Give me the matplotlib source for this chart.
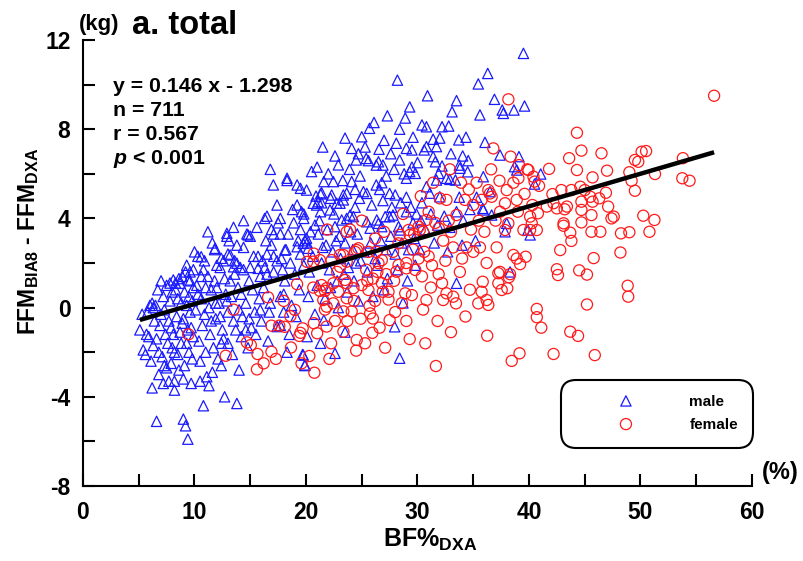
import matplotlib
matplotlib.use("Agg")
import matplotlib.pyplot as plt
from matplotlib.ticker import MultipleLocator

plt.rcParams['font.family'] = ['Liberation Sans', 'DejaVu Sans']
plt.rcParams['font.weight'] = 'bold'
plt.rcParams['axes.labelweight'] = 'bold'
plt.rcParams['axes.unicode_minus'] = False
plt.rcParams['mathtext.fontset'] = 'custom'
plt.rcParams['mathtext.default'] = 'rm'
plt.rcParams['mathtext.rm'] = 'Liberation Sans:bold'
plt.rcParams['mathtext.it'] = 'Liberation Sans:italic:bold'
plt.rcParams['mathtext.bf'] = 'Liberation Sans:bold'

# (BF% by DXA, FFM_BIA8 - FFM_DXA in kg)
male = [
    (5.1, -1.0), (5.4, -1.9), (5.6, -2.1), (5.3, -0.3), (5.7, -1.2), (6.0, 0.1), (6.2, 0.2), (6.3, 0.0),
    (6.5, 0.1), (6.6, -1.4), (6.2, -3.6), (6.6, -5.1), (6.8, -2.0), (7.1, -2.2), (7.3, -2.6), (7.5, -2.7),
    (7.9, -2.5), (7.0, -0.3), (7.2, 0.5), (7.5, 1.0), (7.8, 0.3), (6.9, -0.8), (7.4, -1.2), (7.7, -0.6),
    (8.0, -1.8), (7.6, -1.6), (6.4, -0.6), (5.9, -1.3), (6.1, -2.4), (6.7, 0.8), (7.0, 1.2), (7.3, -0.1),
    (7.9, -0.9), (8.0, 0.7), (6.8, -3.0), (7.2, -3.4), (5.8, -0.2), (6.3, -1.7), (7.7, -3.3), (7.8, 1.1),
    (8.2, -2.0), (8.5, -2.1), (8.2, -3.3), (8.2, -3.7), (9.0, -3.2), (9.0, -5.0), (9.2, -5.3), (9.4, -5.9),
    (8.3, 0.8), (8.6, 1.3), (8.8, 0.2), (9.0, -0.5), (9.2, 1.6), (9.5, 0.5), (9.7, -0.9), (8.7, -1.1),
    (9.3, -1.6), (9.8, -2.3), (9.6, 1.6), (8.4, -0.4), (9.9, 0.9), (9.1, -2.6), (8.9, 1.4), (9.6, -0.2),
    (8.1, -1.2), (8.6, -2.8), (8.9, -0.7), (9.3, 0.1), (9.6, 1.2), (9.9, -1.3), (8.5, 0.4), (9.1, 0.7),
    (9.4, -1.0), (9.8, 0.3), (8.3, 1.1), (9.3, 1.9), (9.7, -3.4), (8.8, -1.6), (9.5, -2.0), (9.9, 1.7),
    (8.1, 1.24), (8.7, 1.09), (9.45, 1.24),
    (10.5, -3.3), (11.1, -3.1), (11.3, -3.5), (11.6, -2.9), (10.8, -4.4), (12.7, -4.0), (10.0, 2.5), (10.3, 2.3),
    (11.8, 2.6), (12.0, 1.9), (12.3, 1.8), (12.6, 2.1), (13.0, 2.4), (12.9, 3.2), (10.2, 1.0), (10.6, 0.4),
    (10.9, -0.3), (11.2, 1.4), (11.5, 0.8), (11.9, -0.5), (12.2, 0.2), (12.5, -1.0), (12.8, 0.6), (10.4, -1.5),
    (10.7, -0.8), (11.0, -2.0), (11.4, -1.2), (11.7, -1.8), (12.1, -2.3), (12.4, -1.6), (10.1, -0.1), (11.3, 0.0),
    (12.0, 0.9), (12.7, 1.3), (13.0, -0.2), (10.8, 1.7), (11.6, 2.9), (12.4, -2.6), (10.5, -2.4), (10.3, 0.6),
    (11.0, 0.9), (11.8, 1.2), (12.3, -0.4), (10.9, 2.1), (11.5, -0.6), (12.9, 0.3), (11.2, 3.4), (10.6, 1.4),
    (12.6, -1.4), (11.9, 0.2), (10.6, 2.28), (11.85, 2.66), (12.4, 2.21), (13.2, 2.36),
    (13.8, -4.3), (13.6, 2.1), (14.1, 1.8), (14.4, 1.7), (14.4, 2.7), (14.4, 3.9), (14.7, 3.3), (15.0, 3.2),
    (15.0, 1.8), (15.3, 2.3), (15.7, 2.3), (13.3, 0.5), (13.5, -0.6), (13.9, 0.9), (14.2, -1.3), (14.6, 0.2),
    (14.9, -0.5), (15.2, 0.8), (15.5, -1.2), (15.8, 0.4), (13.4, -2.1), (14.0, -2.8), (14.8, -1.8), (13.2, 1.2),
    (15.9, 1.4), (13.7, -1.0), (14.3, -0.4), (13.1, 3.0), (13.6, 1.5), (14.2, 0.6), (14.9, 1.2), (15.4, -0.2),
    (15.9, -0.1), (13.0, -1.6), (13.8, 2.8), (14.6, -1.0), (15.1, -0.9), (15.6, 3.6), (13.5, 3.6), (14.0, -0.1),
    (13.8, 1.99), (13.5, 1.83), (14.8, 3.26), (12.9, 3.33), (15.7, 1.76),
    (16.5, 4.1), (16.3, 4.0), (17.7, 4.0), (16.9, 3.5), (17.1, 3.3), (17.7, 3.3), (18.4, 3.3), (19.3, 3.0),
    (19.9, 3.0), (16.5, 2.4), (17.1, 2.3), (17.4, 2.1), (17.8, 2.2), (16.3, 1.8), (16.5, 1.5), (17.1, 1.6),
    (17.07, 5.5), (18.3, 5.7), (19.2, 5.5), (19.2, 4.6), (19.6, 4.3), (19.8, 4.2), (19.8, 4.0), (17.4, -0.85),
    (17.7, -0.8), (18.7, 0.1), (17.7, 0.5), (16.2, 0.9), (16.8, 0.2), (18.1, 1.2), (18.6, 2.0), (19.0, 1.5),
    (19.5, 2.4), (16.0, -0.6), (16.6, -1.5), (18.0, -0.2), (19.4, 0.8), (19.7, -2.1), (19.9, -2.6), (16.9, 2.8),
    (18.2, 2.6), (18.9, 3.8), (17.4, 4.6), (18.0, 0.6), (19.1, -0.4), (16.4, 3.0), (17.9, 1.7), (18.5, -1.2),
    (19.8, 1.9), (16.1, 2.1), (18.8, 4.4), (17.5, 3.8), (19.5, 3.5), (16.7, -0.2), (18.3, -2.0), (16.8, 6.2),
    (18.3, 5.8), (19.5, 5.35), (20.05, 3.11), (19.75, 2.88), (19.2, 2.73), (20.2, 2.66), (18.1, 2.58),
    (20.1, 2.9), (21.1, 3.3), (20.8, 3.7), (21.3, 5.1), (21.1, 4.75), (21.4, 4.7), (20.05, 5.27), (21.6, 5.65),
    (22.45, 5.65), (21.4, 5.15), (22.3, 5.05), (22.75, 4.68), (23.35, 5.05), (23.65, 5.13), (24.1, 5.65), (24.85, 5.9),
    (20.65, 4.68), (20.95, 4.6), (21.3, 4.30), (22.15, 4.38), (23.05, 4.68), (23.35, 4.83), (22.6, 3.63), (23.2, 3.93),
    (23.65, 4.0), (23.95, 4.15), (24.25, 4.08), (21.5, 7.2), (22.6, 6.8), (24.1, 7.14), (23.5, 7.6), (25.0, 7.66),
    (24.5, 6.62), (21.6, -0.56), (23.5, -1.1), (22.6, -2.05), (20.3, 1.6), (20.6, 2.3), (21.0, 1.0), (21.4, 2.0),
    (21.8, 2.8), (22.1, 1.7), (22.4, 2.5), (22.8, 1.2), (23.1, 2.2), (23.5, 2.9), (23.8, 1.8), (24.2, 2.6),
    (24.6, 3.3), (24.9, 2.1), (20.4, 3.4), (21.2, 3.9), (21.9, 3.5), (22.5, 4.2), (23.0, 3.2), (24.0, 3.4),
    (24.4, 4.5), (24.8, 4.9), (20.2, 0.5), (20.8, -0.3), (21.7, 0.4), (22.2, 0.9), (22.9, 0.0), (23.7, 0.7),
    (24.3, 1.2), (24.7, 0.3), (20.5, 6.1), (21.0, 6.3), (22.0, 6.0), (22.9, 6.4), (23.3, 5.7), (24.4, 5.3),
    (20.9, 5.0), (22.2, 4.9), (23.9, 6.2), (24.7, 6.9), (21.5, 2.7), (22.7, 3.0), (23.4, 1.5), (24.5, 2.0),
    (20.1, -1.3), (21.3, -1.6), (19.75, -2.13), (19.9, -2.57),
    (25.7, 8.04), (28.4, 8.0), (28.2, 10.2), (25.4, 6.69), (25.6, 6.59), (26.5, 6.54), (26.3, 6.39), (26.9, 6.39),
    (28.4, 6.62), (28.1, 7.37), (29.6, 7.64), (29.0, 7.14), (29.5, 7.07), (26.55, 7.10), (25.15, 5.2), (25.45, 5.12),
    (26.3, 5.5), (26.6, 5.3), (26.8, 5.6), (27.5, 5.12), (28.0, 5.05), (29.0, 4.95), (29.8, 6.02), (29.3, 6.1),
    (29.0, 5.8), (29.5, 6.3), (25.45, 3.85), (25.75, 3.56), (26.35, 3.93), (26.5, 3.78), (26.8, 3.63), (27.1, 4.08),
    (27.5, 4.08), (27.8, 4.15), (28.3, 3.63), (28.45, 3.48), (29.0, 4.30), (29.6, 3.8), (29.9, 4.2), (28.7, 0.21),
    (27.95, -0.86), (28.4, -2.27), (25.2, 2.5), (25.8, 2.9), (26.2, 2.2), (26.7, 3.0), (27.2, 2.6), (27.6, 3.2),
    (28.0, 2.4), (28.6, 2.9), (29.2, 2.6), (29.7, 3.1), (25.5, 1.6), (26.4, 1.9), (27.3, 1.3), (28.2, 1.7),
    (29.1, 1.2), (29.8, 1.9), (25.9, 4.6), (26.9, 4.8), (27.7, 4.5), (28.5, 4.7), (29.4, 4.5), (27.2, 5.9),
    (27.9, 6.2), (28.8, 6.0), (25.3, 7.2), (27.0, 7.5), (27.6, 6.9), (26.1, 8.3), (27.3, 8.6), (28.9, 8.5),
    (29.3, 9.0), (26.0, 0.5), (27.0, 0.8),
    (30.9, 9.5), (33.5, 9.28), (33.1, 8.78), (30.4, 8.19), (30.8, 8.11), (32.2, 8.11), (32.8, 8.14), (30.6, 7.07),
    (30.8, 7.22), (31.4, 7.55), (31.7, 7.22), (33.7, 7.52), (34.35, 7.64), (31.4, 6.77), (31.6, 6.54), (32.2, 6.35),
    (34.05, 6.80), (34.55, 6.59), (33.75, 6.39), (33.8, 6.25), (30.4, 4.7), (30.8, 5.42), (31.1, 5.13), (31.9, 6.02),
    (31.7, 5.72), (32.6, 5.8), (32.9, 5.75), (33.4, 5.72), (34.5, 6.09), (32.0, 4.97), (33.75, 4.95), (30.3, 3.9),
    (30.7, 3.5), (31.2, 4.2), (31.8, 3.7), (32.4, 4.1), (32.9, 3.6), (33.5, 4.3), (34.1, 3.9), (34.7, 4.4),
    (33.5, 1.09), (30.2, 2.6), (31.5, 2.9), (32.7, 2.5), (34.0, 2.8), (30.0, 6.5), (32.0, 7.6), (33.0, 6.9),
    (39.5, 11.4), (36.3, 10.5), (35.45, 10.03), (36.9, 9.34), (37.6, 8.86), (37.7, 8.71), (38.65, 8.86), (39.6, 9.04),
    (35.6, 8.64), (36.05, 7.41), (37.4, 6.84), (39.1, 6.77), (38.7, 6.32), (38.9, 6.17), (40.5, 5.54), (41.05, 5.99),
    (35.9, 5.87), (35.85, 4.45), (35.3, 4.95), (35.9, 4.38), (36.65, 4.15), (38.0, 3.78), (37.85, 3.40), (39.9, 3.48),
    (40.1, 3.26), (36.5, 5.2), (35.2, 3.0), (38.3, 1.6),
]

female = [
    (9.45, -1.2), (12.8, -2.16), (13.5, -0.09), (14.7, -1.56), (15.05, -1.68), (15.65, -2.08), (16.2, -2.5), (15.6, -2.77),
    (16.9, -1.98), (16.6, 0.46), (16.9, -0.81), (17.6, -0.81), (18.1, -0.86), (18.6, -0.38), (19.2, 1.05), (18.65, -1.79),
    (19.5, -1.13), (19.4, -1.27), (19.7, -0.93), (19.6, -2.5), (17.3, -2.3), (18.0, 0.3), (19.0, -0.1),
    (20.3, -2.17), (20.75, -2.92), (20.7, -0.7), (21.0, -1.15), (20.7, 2.42), (20.1, 2.05), (21.9, 3.5), (21.85, -0.85),
    (22.25, -1.6), (21.55, 0.34), (21.85, 0.04), (21.7, -0.09), (22.9, 0.71), (23.65, 0.42), (22.45, 0.19), (23.35, -0.17),
    (24.1, -0.17), (23.35, -1.08), (24.55, -1.45), (24.5, -1.93), (20.65, 0.9), (21.25, 0.75), (21.7, 0.75), (21.4, 1.01),
    (21.85, 0.87), (22.45, 1.09), (23.5, 1.24), (23.65, 1.09), (24.25, 0.87), (25.0, 1.01), (23.05, 2.36), (22.3, 2.13),
    (23.35, 2.36), (23.65, 2.06), (23.05, 1.83), (20.65, 2.06), (21.25, 2.13), (24.55, 2.58), (24.7, 2.66), (24.4, 2.5),
    (23.95, 3.5), (23.65, 3.40), (22.8, 1.6), (22.6, -0.6), (24.3, 0.3), (23.7, -0.6), (22.1, -2.3), (24.9, -0.5),
    (25.0, 3.9), (25.7, 0.08), (25.75, -0.26), (26.0, -0.49), (25.95, -1.13), (27.5, -0.56), (27.4, 0.71), (29.5, 0.56),
    (28.9, 0.64), (29.3, -1.41), (28.7, 4.2), (29.2, 3.48), (29.3, 3.26), (28.4, 3.26), (28.3, 2.88), (26.3, 2.5),
    (26.8, 2.13), (26.5, 1.99), (25.6, 2.5), (29.0, 2.0), (29.6, 2.6), (29.0, 1.76), (29.8, 1.69), (28.3, 1.91),
    (28.1, 1.61), (26.0, 1.3), (26.4, 1.6), (26.8, 1.1), (27.2, 1.5), (25.4, 1.7), (27.4, 0.36), (26.9, 0.71),
    (25.6, 0.79), (27.8, 2.5), (26.2, 3.1), (27.0, 3.4), (28.6, 0.2), (29.7, 3.3), (25.3, -1.6), (26.6, -0.9),
    (28.0, -0.2), (27.1, -1.8), (29.0, -0.6), (25.5, 1.2), (27.9, 1.2), (26.2, 0.3),
    (30.1, 3.63), (30.2, 3.48), (30.5, 3.40), (30.8, 3.93), (31.0, 4.3), (31.6, 3.8), (31.9, 3.56), (32.0, 4.9),
    (32.6, 4.83), (30.5, -0.09), (30.8, 0.34), (32.3, 0.34), (32.6, 0.64), (33.2, 0.49), (33.45, 0.19), (31.65, -2.62),
    (30.1, 2.2), (30.6, 2.5), (31.0, 2.3), (30.4, 1.4), (31.3, 1.9), (31.9, 1.5), (32.5, 2.1), (33.2, 2.7),
    (34.0, 2.2), (34.4, 2.7), (35.0, 2.5), (33.8, 1.6), (32.2, 1.1), (31.2, 0.9), (33.5, 4.15), (34.25, 4.83),
    (35.0, 4.6), (34.8, 3.5), (33.0, 3.4), (32.3, 3.0), (31.4, 5.6), (32.9, 6.2), (33.9, 5.6), (34.6, 5.3),
    (30.3, 5.0), (31.8, -0.6), (33.0, -1.1), (34.3, -0.4), (34.7, 0.8), (30.7, -1.6), (32.8, 3.9),
    (38.15, 9.34), (36.8, 7.14), (38.35, 6.77), (39.1, 6.39), (39.95, 6.17), (39.05, 5.8), (37.35, 5.69), (38.0, 5.27),
    (36.35, 5.27), (36.5, 5.12), (36.65, 4.97), (35.75, 4.83), (38.9, 4.83), (37.85, 4.68), (37.4, 4.30), (38.15, 3.78),
    (37.85, 3.48), (39.5, 3.48), (35.6, 2.7), (36.2, 2.0), (37.1, 2.7), (38.3, 1.5), (38.9, 2.2), (37.4, 1.6),
    (35.85, 1.16), (35.75, 0.71), (36.2, 0.34), (36.35, 0.12), (35.45, 0.19), (37.25, 1.54), (37.25, 1.09), (37.55, 0.79),
    (38.05, 0.87), (38.2, 1.36), (38.6, 2.36), (39.2, 1.95), (39.15, -2.05), (38.45, -2.39), (36.25, -1.26), (39.7, 2.28),
    (36.0, 3.4), (37.0, 3.9), (39.0, 4.3), (35.3, 5.6), (36.6, 6.2), (35.5, 3.9), (38.6, 5.6), (39.6, 5.1),
    (40.1, 3.48), (40.25, 3.78), (40.7, 3.48), (40.1, 4.08), (40.8, 4.23), (41.6, 4.53), (40.4, 5.87), (40.9, 5.46),
    (41.8, 6.22), (39.85, 6.2), (44.3, 7.84), (44.7, 7.04), (43.6, 6.70), (44.3, 6.17), (40.5, 5.65), (40.3, 4.6),
    (42.1, 5.09), (42.2, 4.68), (42.5, 4.45), (43.2, 4.41), (43.4, 4.53), (42.9, 5.27), (43.8, 5.27), (44.6, 5.42),
    (44.7, 4.75), (44.7, 4.38), (44.7, 3.82), (43.1, 3.78), (43.1, 3.67), (43.7, 3.36), (43.8, 2.99), (42.8, 2.58),
    (42.5, 1.72), (44.5, 1.67), (42.6, 1.46), (40.7, -0.06), (40.7, -0.43), (41.1, -0.90), (43.7, -1.08), (44.4, -1.27),
    (42.2, -2.08),
    (45.0, 5.27), (45.5, 4.97), (45.7, 4.75), (46.9, 5.15), (46.3, 4.90), (47.1, 4.53), (45.6, 4.15), (47.4, 4.0),
    (47.6, 4.08), (45.6, 3.40), (46.4, 3.40), (48.25, 3.33), (49.0, 3.38), (50.25, 4.12), (51.25, 3.93), (50.8, 3.40),
    (48.2, 2.47), (45.8, 2.22), (45.2, 1.48), (48.85, 0.98), (48.9, 0.49), (45.2, 0.14), (45.9, -2.13), (46.5, 6.92),
    (45.7, 5.84), (47.0, 6.14), (49.0, 6.07), (49.5, 6.62), (49.8, 6.54), (50.1, 6.99), (50.5, 7.02), (49.2, 5.69),
    (49.5, 5.24), (51.3, 5.99), (53.8, 6.70), (53.75, 5.8), (54.4, 5.69), (56.6, 9.5),
]

slope, intercept = 0.146, -1.298
stats_lines = ['y = 0.146 x - 1.298', 'n = 711', 'r = 0.567', r'$\mathit{p}$ < 0.001']

fig = plt.figure(figsize=(8.04, 5.61), dpi=100)
ax = fig.add_axes([83 / 804, 75 / 561, 669 / 804, 446 / 561])

mx, my = zip(*male)
fx, fy = zip(*female)
ax.scatter(mx, my, s=55, marker='^', facecolors='none', edgecolors='#1a1aff',
           linewidths=0.9, label='male', zorder=2)
ax.scatter(fx, fy, s=64, marker='o', facecolors='none', edgecolors='#ff1a1a',
           linewidths=0.9, label='female', zorder=2)

# regression line across the observed BF% range
x0, x1 = min(mx + fx), max(mx + fx)
ax.plot([x0, x1], [slope * x0 + intercept, slope * x1 + intercept],
        color='black', lw=3.2, solid_capstyle='butt', zorder=3)

ax.set_xlim(0, 60)
ax.set_ylim(-8, 12)
ax.xaxis.set_major_locator(MultipleLocator(10))
ax.xaxis.set_minor_locator(MultipleLocator(5))
ax.yaxis.set_major_locator(MultipleLocator(4))
ax.yaxis.set_minor_locator(MultipleLocator(2))
ax.tick_params(which='both', direction='in', length=8.5, width=1.5)
ax.tick_params(axis='x', pad=11, labelsize=16.5)
ax.tick_params(axis='y', pad=9, labelsize=16.5)
for side in ['top', 'right']:
    ax.spines[side].set_visible(False)
for side in ['left', 'bottom']:
    ax.spines[side].set_linewidth(1.5)

ax.set_xlabel('BF%$_{DXA}$', fontsize=18, fontweight='bold')
ax.xaxis.set_label_coords(0.519, -0.092)
ax.set_ylabel('FFM$_{BIA8}$ - FFM$_{DXA}$', fontsize=16.5, fontweight='bold')
ax.yaxis.set_label_coords(-0.063, 0.549)

leg = ax.legend(loc='upper left', bbox_to_anchor=(0.7145, 0.2377), borderaxespad=0,
                fontsize=11, frameon=True, fancybox=True, handlelength=6.5,
                handletextpad=0.9, borderpad=1.0, labelspacing=0.6,
                scatterpoints=1, scatteryoffsets=[0.5], framealpha=1)
frame = leg.get_frame()
frame.set_edgecolor('black')
frame.set_linewidth(1.5)
frame.set_boxstyle('round', pad=0, rounding_size=1.0)

for i, line in enumerate(stats_lines):
    fig.text(113 / 804, 1 - (92.5 + 24 * i) / 561, line, fontsize=15.3, va='baseline')

fig.text(79 / 804, 1 - 30 / 561, '(kg)', fontsize=16, va='baseline')
fig.text(132 / 804, 1 - 34 / 561, 'a. total', fontsize=23.5, va='baseline')
fig.text(762 / 804, 1 - 473 / 561, '(%)', fontsize=17, va='center')

fig.savefig('out.png', dpi=100)
